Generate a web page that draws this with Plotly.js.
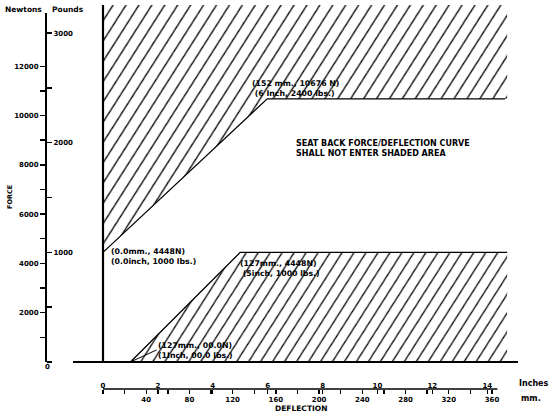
<!DOCTYPE html>
<html><head><meta charset="utf-8">
<script src="https://cdn.plot.ly/plotly-3.0.1.min.js"></script>
<style>html,body{margin:0;padding:0;background:#fff}#chart{width:550px;height:414px}</style>
</head><body><div id="chart"></div>
<script>
// ---------- data ----------
const N_PER_LB = 4.448;
const MM_PER_IN = 25.4;
// lower edge of the upper shaded area: (0 mm, 4448 N) -> (152 mm, 10676 N) -> right end
const upperEdgeMM = [0, 152, 372];
const upperEdgeN  = [4448, 10676, 10676];
// upper edge of the lower shaded area: (25.4 mm, 0 N) -> (127 mm, 4448 N) -> right end
const lowerEdgeMM = [25.4, 127, 374];
const lowerEdgeN  = [0, 4448, 4448];
const shadeTopN = 14483;
const shadeRightMM = 374;
const newtonTicks  = [1000,2000,3000,4000,5000,6000,7000,8000,9000,10000,11000,12000];
const newtonLabels = ['','2000','','4000','','6000','','8000','','10000','','12000'];
const poundTicks  = [0,500,1000,1500,2000,2500,3000];
const poundLabels = ['','','1000','','2000','','3000'];
const inchTicks = [0,2,4,6,8,10,12,14];
const mmTicks  = [20,40,60,80,100,120,140,160,180,200,220,240,260,280,300,320,340,360];
const mmLabels = ['','40','','80','','120','','160','','200','','240','','280','','320','','360'];

// ---------- layout helpers ----------
const W = 550, H = 414;
const X0 = 103, PXMM = 1.0806;      // 0 mm at x=103px
const Y0 = 362, PXN = 0.02465;      // 0 N at y=362px
const xRange = [-X0 / PXMM, (W - X0) / PXMM];
const yRange = [(Y0 - H) / PXN, Y0 / PXN];
const px = v => v / W, py = v => 1 - v / H;
const FONT = 'DejaVu Sans';
const tf = (s) => ({family: FONT, size: s, color: '#000', weight: 'bold'});

const shadeUpperX = [upperEdgeMM[0], upperEdgeMM[1], shadeRightMM, shadeRightMM, upperEdgeMM[0]];
const shadeUpperY = [upperEdgeN[0], upperEdgeN[1], upperEdgeN[2], shadeTopN, shadeTopN];
const shadeLowerX = [lowerEdgeMM[0], lowerEdgeMM[1], shadeRightMM, shadeRightMM];
const shadeLowerY = [lowerEdgeN[0], lowerEdgeN[1], lowerEdgeN[2], 0];

const pat = (size) => ({shape: '/', size: size, solidity: 0.12, fgcolor: '#000', bgcolor: 'rgba(255,255,255,0)', fgopacity: 1});

const traces = [
  {x: shadeUpperX, y: shadeUpperY, type: 'scatter', mode: 'none', fill: 'toself',
   fillcolor: 'rgba(0,0,0,0)', fillpattern: pat(10.9), hoverinfo: 'skip', showlegend: false},
  {x: shadeLowerX, y: shadeLowerY, type: 'scatter', mode: 'none', fill: 'toself',
   fillcolor: 'rgba(0,0,0,0)', fillpattern: pat(10.1), hoverinfo: 'skip', showlegend: false},
  {x: upperEdgeMM, y: upperEdgeN, type: 'scatter', mode: 'lines',
   line: {color: '#000', width: 1.3}, hoverinfo: 'skip', showlegend: false},
  {x: lowerEdgeMM, y: lowerEdgeN, type: 'scatter', mode: 'lines',
   line: {color: '#000', width: 1.3}, hoverinfo: 'skip', showlegend: false},
  {x: [], y: [], xaxis: 'x2', yaxis: 'y2', type: 'scatter', mode: 'none', hoverinfo: 'skip', showlegend: false}
];

const baseAxis = {showgrid: false, zeroline: false, showline: false, fixedrange: true,
  tickcolor: '#000', tickwidth: 1.4, tickmode: 'array'};

const layout = {
  width: W, height: H,
  margin: {l: 0, r: 0, t: 0, b: 0},
  paper_bgcolor: '#fff', plot_bgcolor: '#fff',
  showlegend: false,
  xaxis: Object.assign({}, baseAxis, {range: xRange, anchor: 'free', position: py(389), side: 'bottom',
    tickvals: mmTicks, ticktext: mmLabels, ticks: 'outside', ticklen: 4, tickfont: tf(7)}),
  xaxis2: Object.assign({}, baseAxis, {range: xRange.map(v => v / MM_PER_IN), overlaying: 'x', anchor: 'free',
    position: py(389), side: 'top', tickvals: inchTicks, ticktext: inchTicks.map(String),
    ticks: 'inside', ticklen: 4, tickfont: tf(7)}),
  yaxis: Object.assign({}, baseAxis, {range: yRange, anchor: 'free', position: px(46), side: 'left',
    tickvals: newtonTicks, ticktext: newtonLabels, ticks: 'outside', ticklen: 6, tickfont: tf(7)}),
  yaxis2: Object.assign({}, baseAxis, {range: yRange.map(v => v / N_PER_LB), overlaying: 'y', anchor: 'free',
    position: px(46), side: 'right', tickvals: poundTicks, ticktext: poundLabels,
    ticks: 'outside', ticklen: 5, tickfont: tf(7)}),
  shapes: [
    // plot frame: baseline and left wall
    {type: 'line', xref: 'x', yref: 'y', x0: -27.8, x1: 384, y0: 0, y1: 0, line: {color: '#000', width: 2}},
    {type: 'line', xref: 'x', yref: 'y', x0: 0, x1: 0, y0: 0, y1: shadeTopN, line: {color: '#000', width: 2.2}},
    // force axis line
    {type: 'line', xref: 'paper', yref: 'y', x0: px(46), x1: px(46), y0: 0, y1: 14160, line: {color: '#000', width: 2}},
    // deflection axis line
    {type: 'line', xref: 'x', yref: 'paper', x0: 0, x1: 365, y0: py(389), y1: py(389), line: {color: '#000', width: 1.5}}
  ],
  annotations: [
    {xref: 'paper', yref: 'paper', x: px(3), y: py(10), xanchor: 'left', yanchor: 'middle', showarrow: false, text: 'Newtons', font: tf(7.5)},
    {xref: 'paper', yref: 'paper', x: px(50), y: py(10), xanchor: 'left', yanchor: 'middle', showarrow: false, text: 'Pounds', font: tf(7.5)},
    {xref: 'paper', yref: 'paper', x: px(10), y: py(197), xanchor: 'center', yanchor: 'middle', showarrow: false, text: 'FORCE', textangle: -90, font: tf(6.5)},
    {xref: 'paper', yref: 'paper', x: px(47), y: py(367), xanchor: 'center', yanchor: 'middle', showarrow: false, text: '0', font: tf(7)},
    {xref: 'paper', yref: 'paper', x: px(517), y: py(383), xanchor: 'left', yanchor: 'middle', showarrow: false, text: 'Inches', font: tf(8)},
    {xref: 'paper', yref: 'paper', x: px(519), y: py(398), xanchor: 'left', yanchor: 'middle', showarrow: false, text: 'mm.', font: tf(8)},
    {xref: 'paper', yref: 'paper', x: px(301), y: py(408), xanchor: 'center', yanchor: 'middle', showarrow: false, text: 'DEFLECTION', font: tf(7.5)},
    {xref: 'paper', yref: 'paper', x: px(294), y: py(148), xanchor: 'left', yanchor: 'middle', showarrow: false, align: 'left',
     text: 'SEAT BACK FORCE/DEFLECTION CURVE<br>SHALL NOT ENTER SHADED AREA', font: tf(8)},
    {xref: 'paper', yref: 'paper', x: px(109), y: py(256), xanchor: 'left', yanchor: 'middle', showarrow: false, align: 'left',
     text: '(0.0mm., 4448N)<br>(0.0inch, 1000 lbs.)', font: tf(7.8)},
    {xref: 'paper', yref: 'paper', x: px(238), y: py(268), xanchor: 'left', yanchor: 'middle', showarrow: false, align: 'left',
     text: '(127mm., 4448N)<br> (5inch, 1000 lbs.)', font: tf(7.8)},
    {xref: 'paper', yref: 'paper', x: px(250), y: py(88), xanchor: 'left', yanchor: 'middle', showarrow: false, align: 'left',
     text: '(152 mm., 10676 N)<br> (6 Inch, 2400 lbs.)', font: tf(7.8)},
    {xref: 'x', yref: 'y', x: lowerEdgeMM[0], y: lowerEdgeN[0], ax: 26, ay: -12, xanchor: 'left', yanchor: 'middle',
     showarrow: true, arrowhead: 0, arrowwidth: 1, arrowcolor: '#000', standoff: 0, align: 'left',
     text: '(127mm., 00.0N)<br>(1Inch, 00.0 lbs.)', font: tf(7.8)}
  ]
};

Plotly.newPlot('chart', traces, layout, {staticPlot: true, displayModeBar: false}).then(() => {
  // steepen the hatching from 45 deg to the ~57 deg used in the drawing
  document.querySelectorAll('pattern').forEach(p => p.setAttribute('patternTransform', 'rotate(-12.5)'));
});
</script>
</body></html>
